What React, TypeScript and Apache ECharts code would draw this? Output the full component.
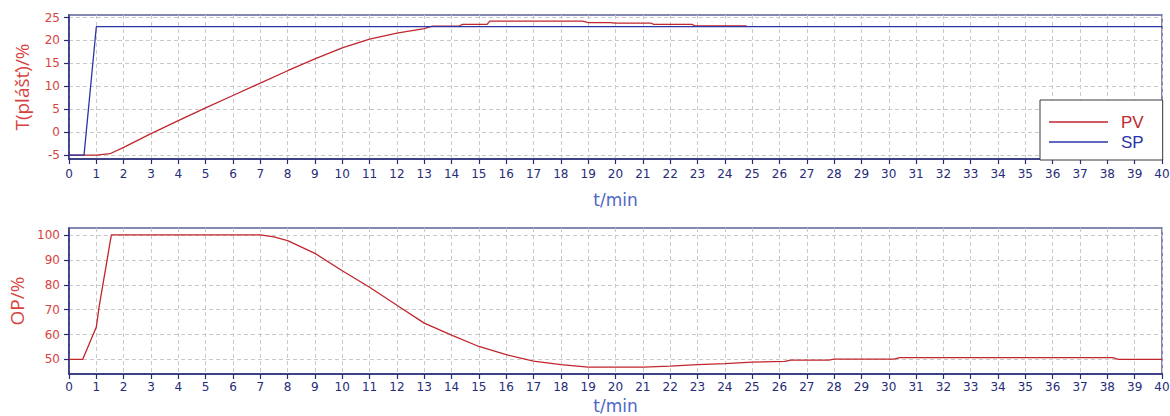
import React, { useEffect, useRef } from "react";
import * as echarts from "echarts";

// ---- data ----
const pvTime = [0, 0.5, 1, 1.5, 2, 3, 4, 5, 6, 7, 8, 9, 10, 11, 12, 13, 13.3, 14.3, 14.4, 15.3, 15.4, 18.8, 19.0, 19.8, 20.0, 21.3, 21.4, 22.8, 22.9, 24.8];
const pvValue = [-5, -5, -5, -4.7, -3.3, -0.3, 2.5, 5.3, 8.0, 10.7, 13.4, 16.0, 18.4, 20.3, 21.6, 22.6, 23.1, 23.2, 23.5, 23.5, 24.2, 24.2, 23.9, 23.9, 23.8, 23.8, 23.5, 23.5, 23.2, 23.2];

const spTime = [0, 0.55, 1.0, 40];
const spValue = [-5, -5, 23, 23];

const opTime = [0, 0.5, 1, 1.1, 1.55, 7, 7.5, 8, 9, 10, 11, 12, 13, 14, 15, 16, 17, 18, 19, 21, 22, 23, 24, 25, 26.2, 26.4, 27.8, 28, 30.2, 30.4, 38.2, 38.4, 40];
const opValue = [50, 50, 63, 71, 100, 100, 99.2, 97.7, 92.6, 85.6, 79.0, 71.8, 64.6, 59.8, 55.2, 51.9, 49.3, 47.9, 46.9, 46.9, 47.3, 47.9, 48.3, 48.9, 49.2, 49.7, 49.7, 50.1, 50.1, 50.7, 50.7, 50.0, 50.0];

const topTicks = [-5, 0, 5, 10, 15, 20, 25];
const bottomTicks = [50, 60, 70, 80, 90, 100];

const zip = (t: number[], v: number[]) => t.map((x, i) => [x, v[i]]);

const RED = "#c0262c";
const BLUE = "#2b35a6";
const NAVY = "#262c78";
const LABEL_RED = "#d8423e";
const TITLE_BLUE = "#4e67c6";
const GRIDLINE = "#c9c9c9";

export default function App() {
  const ref = useRef<HTMLDivElement>(null);
  useEffect(() => {
    if (!ref.current) return;
    const chart = echarts.init(ref.current, undefined, { renderer: "svg" });
    const xAxisBase = (gridIndex: number, nameGap: number, labelMargin: number) => ({
      type: "value",
      gridIndex,
      min: 0,
      max: 40,
      interval: 1,
      name: "t/min",
      nameLocation: "middle",
      nameGap,
      nameTextStyle: { color: TITLE_BLUE, fontSize: 17, fontFamily: "DejaVu Sans" },
      axisLine: { show: true, onZero: false, lineStyle: { color: NAVY, width: 1.5 } },
      axisTick: { show: true, inside: false, length: 5, lineStyle: { color: NAVY, width: 1.2 } },
      axisLabel: { color: NAVY, fontSize: 12, fontFamily: "DejaVu Sans", margin: labelMargin },
      splitLine: { show: true, lineStyle: { color: GRIDLINE, type: [4, 3], width: 1 } },
    });
    const yAxisBase = (gridIndex: number, min: number, max: number, ticks: number[], name: string, nameGap: number) => ({
      type: "value",
      gridIndex,
      min,
      max,
      name,
      nameLocation: "middle",
      nameGap,
      nameTextStyle: { color: LABEL_RED, fontSize: 19, fontFamily: "Open Sans" },
      axisLine: { show: true, onZero: false, lineStyle: { color: NAVY, width: 1.5 } },
      axisTick: { show: true, inside: false, length: 5, customValues: ticks, lineStyle: { color: NAVY, width: 1.2 } },
      axisLabel: { color: LABEL_RED, fontSize: 12, fontFamily: "DejaVu Sans", margin: 9, customValues: ticks },
      splitLine: { show: true, lineStyle: { color: GRIDLINE, type: [4, 3], width: 1 } },
    });
    chart.setOption({
      animation: false,
      backgroundColor: "#ffffff",
      grid: [
        { left: 69, right: 8, top: 15, height: 144, show: true, borderColor: "#5c6298", borderWidth: 1.5, backgroundColor: "transparent", outerBoundsMode: "none" },
        { left: 69, right: 8, top: 228, height: 146, show: true, borderColor: "#5c6298", borderWidth: 1.5, backgroundColor: "transparent", outerBoundsMode: "none" },
      ],
      xAxis: [xAxisBase(0, 32, 9), xAxisBase(1, 23, 7)],
      yAxis: [
        yAxisBase(0, -5.85, 25.55, topTicks, "T(plášť)/%", 38),
        yAxisBase(1, 44.15, 102.8, bottomTicks, "OP/%", 37),
      ],
      legend: {
        orient: "vertical",
        left: 1040,
        top: 100,
        padding: [12, 19, 8, 9],
        itemGap: 0,
        itemWidth: 59,
        itemHeight: 1.6,
        icon: "rect",
        backgroundColor: "#ffffff",
        borderColor: "#3a3a3a",
        borderWidth: 1,
        textStyle: { fontSize: 17, fontFamily: "Liberation Sans", lineHeight: 20, padding: [0, 0, 0, 8] },
        data: [
          { name: "PV", textStyle: { color: RED } },
          { name: "SP", textStyle: { color: BLUE } },
        ],
      },
      series: [
        {
          name: "PV",
          type: "line",
          xAxisIndex: 0,
          yAxisIndex: 0,
          data: zip(pvTime, pvValue),
          showSymbol: false,
          symbol: "none",
          color: RED,
          lineStyle: { color: RED, width: 1.3 },
        },
        {
          name: "SP",
          type: "line",
          xAxisIndex: 0,
          yAxisIndex: 0,
          data: zip(spTime, spValue),
          showSymbol: false,
          symbol: "none",
          color: BLUE,
          lineStyle: { color: BLUE, width: 1.3 },
        },
        {
          name: "OP",
          type: "line",
          xAxisIndex: 1,
          yAxisIndex: 1,
          data: zip(opTime, opValue),
          showSymbol: false,
          symbol: "none",
          color: RED,
          lineStyle: { color: RED, width: 1.3 },
        },
      ],
    });
    return () => chart.dispose();
  }, []);
  return (
    <div
      ref={ref}
      style={{ position: "absolute", left: 0, top: 0, width: 1170, height: 416 }}
    />
  );
}
